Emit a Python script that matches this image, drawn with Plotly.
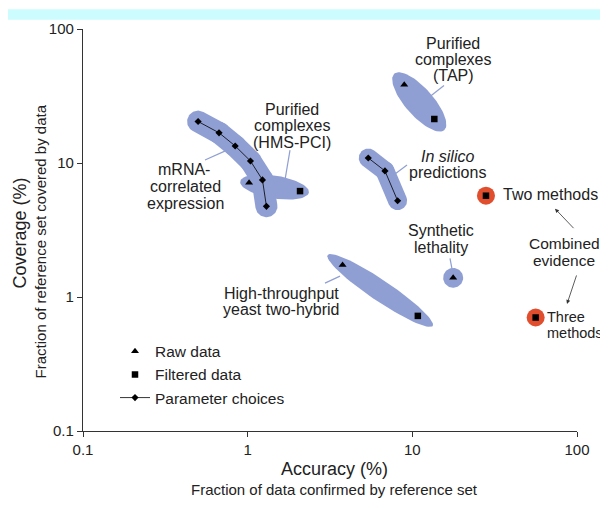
import numpy as np
import plotly.graph_objects as go

# ---------------- data ----------------
tick_vals = [0.1, 1, 10, 100]
tick_text = ["0.1", "1", "10", "100"]

# parameter-choice series (diamonds joined by a line)
mrna_acc = [0.50, 0.67, 0.84, 1.04, 1.23, 1.30]
mrna_cov = [20.4, 16.8, 13.4, 10.35, 7.48, 4.75]
silico_acc = [5.40, 6.82, 8.14]
silico_cov = [10.9, 8.73, 5.23]

# raw data (triangles): TAP, HMS-PCI, Y2H, synthetic lethality
raw_acc = [8.93, 1.02, 3.77, 17.7]
raw_cov = [38.3, 7.11, 1.73, 1.39]

# filtered data (squares): TAP, HMS-PCI, Y2H, two methods, three methods
filt_acc = [13.6, 2.08, 10.8, 28.0, 56.1]
filt_cov = [21.3, 6.17, 0.723, 5.70, 0.703]

# combined evidence (red discs): two methods, three methods
comb_acc = [28.0, 56.1]
comb_cov = [5.70, 0.703]

# ---------------- style constants ----------------
OFF = 8                       # page body margin
W, H = 600, 500
PX0, PY0, PX1, PY1 = 83, 26, 577, 431   # plot area in page pixels
ML, MT = PX0 - OFF, PY0 - OFF
PW, PH = PX1 - PX0, PY1 - PY0
MR, MB = W - ML - PW, H - MT - PH
SX, SY = PW / 3.0, PH / 3.0          # pixels per decade
BLUE = "#8f9fd3"
RED = "#e04e2e"
INK = "#222222"
FONT = "Liberation Sans, Arial, sans-serif"


def to_px(x, y):
    return np.log10(x) * SX, np.log10(y) * SY


def from_px(u, v):
    return 10 ** (np.asarray(u) / SX), 10 ** (np.asarray(v) / SY)


def ellipse(p1, p2, pad, hw, n=80):
    (u1, v1), (u2, v2) = to_px(*p1), to_px(*p2)
    cu, cv = (u1 + u2) / 2, (v1 + v2) / 2
    L = np.hypot(u2 - u1, v2 - v1)
    th = np.arctan2(v2 - v1, u2 - u1) if L > 0 else 0.0
    a, b = L / 2 + pad, hw
    t = np.linspace(0, 2 * np.pi, n)
    uu = cu + a * np.cos(t) * np.cos(th) - b * np.sin(t) * np.sin(th)
    vv = cv + a * np.cos(t) * np.sin(th) + b * np.sin(t) * np.cos(th)
    return from_px(uu, vv)


def stadium(p1, p2, r, n=40):
    (u1, v1), (u2, v2) = to_px(*p1), to_px(*p2)
    th = np.arctan2(v2 - v1, u2 - u1)
    t1 = np.linspace(th - np.pi / 2, th + np.pi / 2, n)
    t2 = np.linspace(th + np.pi / 2, th + 3 * np.pi / 2, n)
    uu = np.concatenate([u2 + r * np.cos(t1), u1 + r * np.cos(t2)])
    vv = np.concatenate([v2 + r * np.sin(t1), v1 + r * np.sin(t2)])
    return from_px(uu, vv)


fig = go.Figure()


def blob(xy):
    fig.add_trace(go.Scatter(x=xy[0], y=xy[1], mode="lines", fill="toself",
                             fillcolor=BLUE, line=dict(width=0, color=BLUE),
                             hoverinfo="skip", showlegend=False))


# group outlines
blob(ellipse((raw_acc[0], raw_cov[0]), (filt_acc[0], filt_cov[0]), 15, 14))   # TAP
blob(ellipse((raw_acc[2], raw_cov[2]), (filt_acc[2], filt_cov[2]), 18, 10.5))  # Y2H
blob(ellipse((raw_acc[3], raw_cov[3]), (raw_acc[3], raw_cov[3]), 10, 10))     # SL
blob(ellipse((raw_acc[1], raw_cov[1]), (filt_acc[1], filt_cov[1]), 9, 11.5))   # HMS-PCI
for i in range(len(mrna_acc) - 1):
    blob(stadium((mrna_acc[i], mrna_cov[i]), (mrna_acc[i + 1], mrna_cov[i + 1]), 11))
for i in range(len(silico_acc) - 1):
    blob(stadium((silico_acc[i], silico_cov[i]), (silico_acc[i + 1], silico_cov[i + 1]), 9.5))

# combined-evidence discs
fig.add_trace(go.Scatter(x=comb_acc, y=comb_cov, mode="markers",
                         marker=dict(symbol="circle", size=18, color=RED, line=dict(width=0)),
                         hoverinfo="skip", showlegend=False))

# data markers
fig.add_trace(go.Scatter(x=raw_acc, y=raw_cov, mode="markers", name="Raw data",
                         marker=dict(symbol="triangle-up", size=7, color="black")))
fig.add_trace(go.Scatter(x=filt_acc, y=filt_cov, mode="markers", name="Filtered data",
                         marker=dict(symbol="square", size=6.5, color="black")))
fig.add_trace(go.Scatter(x=mrna_acc, y=mrna_cov, mode="lines+markers", name="Parameter choices",
                         line=dict(color="black", width=0.8),
                         marker=dict(symbol="diamond", size=5.5, color="black")))
fig.add_trace(go.Scatter(x=silico_acc, y=silico_cov, mode="lines+markers", name="Parameter choices",
                         showlegend=False, line=dict(color="black", width=0.8),
                         marker=dict(symbol="diamond", size=5.5, color="black")))


def P(px, py):
    """page pixel -> paper coordinates"""
    return (px - PX0) / PW, (PY1 - py) / PH


annotations = []


def label(text, px, py, size=16, anchor="center", **kw):
    x, y = P(px, py)
    annotations.append(dict(text=text, x=x, y=y, xref="paper", yref="paper",
                            xanchor=anchor, yanchor="middle", showarrow=False,
                            font=dict(size=size, color=INK, family=FONT), **kw))


label("Purified", 453, 41)
label("complexes", 453, 57)
label("(TAP)", 453, 73)
label("Purified", 292, 107)
label("complexes", 292, 123)
label("(HMS-PCI)", 292, 140)
label("mRNA-", 184, 168)
label("correlated", 185, 185)
label("expression", 185, 202)
label("<i>In silico</i>", 447, 154)
label("predictions", 447, 171)
label("Two methods", 501, 193, anchor="left")
label("Synthetic", 441, 229)
label("lethality", 441, 246)
label("Combined", 564, 242, size=15.5)
label("evidence", 564, 259, size=15.5)
label("High-throughput", 281, 292)
label("yeast two-hybrid", 281, 309)
label("Three", 545, 316, size=14.5, anchor="left")
label("methods", 545, 332, size=14.5, anchor="left")
label("Accuracy (%)", 334, 469, size=18)
label("Fraction of data confirmed by reference set", 334, 490, size=15)
label("Coverage (%)", 20, 231, size=18, textangle=-90)
label("Fraction of reference set covered by data", 40, 240, size=15, textangle=-90)

# arrows for "Combined evidence"
for (hx, hy, tx, ty) in [(555, 207, 575, 228), (567, 303, 577, 273)]:
    x, y = P(hx, hy)
    annotations.append(dict(text="", x=x, y=y, xref="paper", yref="paper",
                            ax=tx - hx, ay=ty - hy, showarrow=True, arrowhead=2,
                            arrowsize=1, arrowwidth=0.8, arrowcolor="#333333"))

shapes = []
# leader lines
for (x1, y1, x2, y2) in [(444, 83, 430, 94), (407, 163, 395, 172), (290, 148, 285, 178),
                         (205, 158, 227, 148), (340, 275, 325, 282), (450, 257, 453, 273)]:
    a, b = P(x1, y1)
    c, d = P(x2, y2)
    shapes.append(dict(type="line", xref="paper", yref="paper", x0=a, y0=b, x1=c, y1=d,
                       line=dict(color=BLUE, width=1.2), layer="below"))
# cyan band at top
shapes.append(dict(type="rect", xref="paper", yref="paper",
                   x0=-0.3, x1=1.2, y0=P(0, 16.7)[1], y1=P(0, 6)[1],
                   fillcolor="#ccfcfe", line=dict(width=0), layer="below"))

axis = dict(type="log", range=[-1, 2], tickvals=tick_vals, ticktext=tick_text,
            ticks="outside", ticklen=5, tickwidth=1, tickcolor="#333333",
            showline=True, linecolor="#333333", linewidth=1.2, showgrid=False,
            zeroline=False, tickfont=dict(size=15, color=INK, family=FONT), fixedrange=True)

fig.update_layout(
    width=W, height=H, margin=dict(l=ML, r=MR, t=MT, b=MB, pad=0),
    paper_bgcolor="white", plot_bgcolor="white",
    xaxis=dict(axis), yaxis=dict(axis),
    showlegend=True,
    legend=dict(x=P(115, 0)[0], y=P(0, 334)[1], xanchor="left", yanchor="top",
                bgcolor="rgba(0,0,0,0)", font=dict(size=15.5, color=INK, family=FONT),
                itemwidth=30, tracegroupgap=0),
    annotations=annotations, shapes=shapes,
    font=dict(family=FONT, color=INK),
)

fig.write_html("out.html")
